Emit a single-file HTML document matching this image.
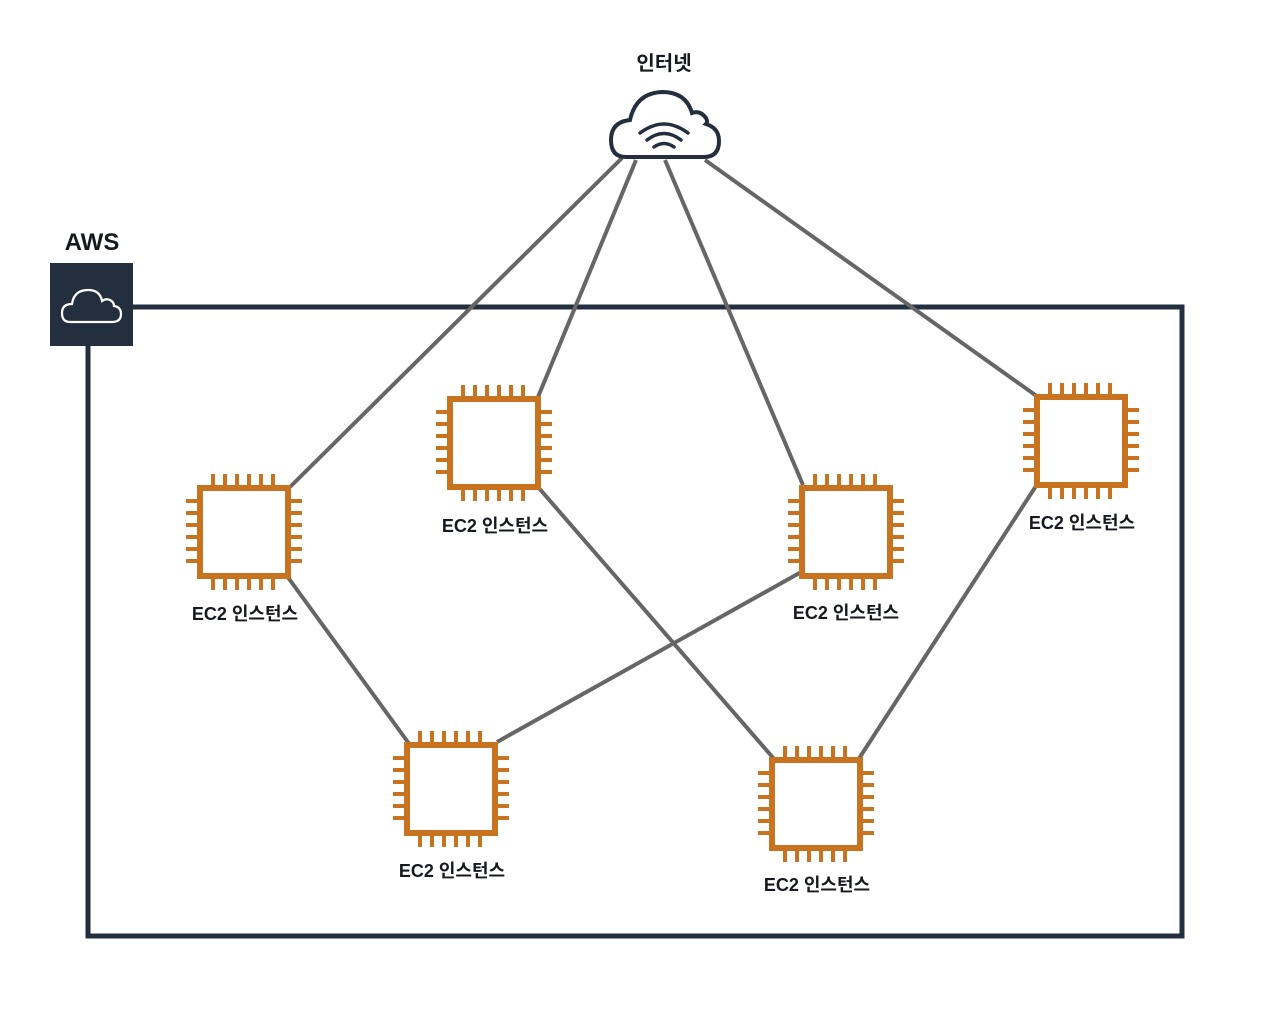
<!DOCTYPE html>
<html><head><meta charset="utf-8"><style>
body{margin:0;background:#fff;width:1288px;height:1014px;overflow:hidden}
svg text{font-family:"Liberation Sans","Noto Sans CJK KR",sans-serif;font-weight:bold;fill:#16191f}
</style></head><body>
<svg width="1288" height="1014" viewBox="0 0 1288 1014">
<defs>
<g id="chip">
<rect x="-44" y="-44" width="88" height="88" fill="#fff" stroke="#c7731f" stroke-width="6"/>
<g stroke="#c7731f" stroke-width="4">
<path d="M-31 -47V-58M-19 -47V-58M-7 -47V-58M5 -47V-58M17 -47V-58M29 -47V-58"/>
<path d="M-31 47V58M-19 47V58M-7 47V58M5 47V58M17 47V58M29 47V58"/>
<path d="M-47 -31H-58M-47 -19H-58M-47 -7H-58M-47 5H-58M-47 17H-58M-47 29H-58"/>
<path d="M47 -31H58M47 -19H58M47 -7H58M47 5H58M47 17H58M47 29H58"/>
</g>
</g>
</defs>
<rect x="88" y="307" width="1094" height="629" fill="none" stroke="#232f3e" stroke-width="5"/>
<g stroke="#666" stroke-width="4" fill="none">
<line x1="622" y1="158" x2="290" y2="487"/>
<line x1="636" y1="160" x2="538" y2="397"/>
<line x1="665" y1="160" x2="803" y2="485"/>
<line x1="705" y1="160" x2="1038" y2="397"/>
<line x1="287" y1="576" x2="410" y2="745"/>
<line x1="538" y1="487" x2="775" y2="760"/>
<line x1="803" y1="571" x2="497" y2="742"/>
<line x1="1036" y1="486" x2="858" y2="760"/>
</g>
<rect x="50" y="263" width="83" height="83" fill="#232f3e"/>
<path d="M70 322 Q62 322 62 313 Q62 304 72 304 Q74 290 88 290 Q100 290 102 301 Q106 298 110 300 Q114 302 114 306 Q121 307 121 314 Q121 322 112 322 Z" fill="none" stroke="#fff" stroke-width="2.2"/>
<text x="92" y="250" font-size="24" text-anchor="middle">AWS</text>
<text x="664" y="70" font-size="20" text-anchor="middle">인터넷</text>
<path d="M626 157 Q611 157 611 140 Q611 122 630 120 Q636 93 662 92 Q686 92 692 113 Q700 110 706 118 Q708 122 706 124 Q719 128 719 141 Q719 157 704 157 Z" fill="#fff" stroke="#232f3e" stroke-width="4"/>
<g fill="none" stroke="#232f3e" stroke-width="3.5" stroke-linecap="round">
<path d="M640 133 Q664 115 688 133"/>
<path d="M647 140 Q664 127 681 140"/>
<path d="M654 147 Q664 140 674 147"/>
</g>
<use href="#chip" x="244" y="532"/>
<use href="#chip" x="494" y="443"/>
<use href="#chip" x="846" y="532"/>
<use href="#chip" x="1081" y="441"/>
<use href="#chip" x="451" y="789"/>
<use href="#chip" x="816" y="804"/>
<g font-size="18" text-anchor="middle">
<text x="245" y="620">EC2 인스턴스</text>
<text x="495" y="532">EC2 인스턴스</text>
<text x="846" y="619">EC2 인스턴스</text>
<text x="1082" y="529">EC2 인스턴스</text>
<text x="452" y="877">EC2 인스턴스</text>
<text x="817" y="891">EC2 인스턴스</text>
</g>
</svg>
</body></html>
